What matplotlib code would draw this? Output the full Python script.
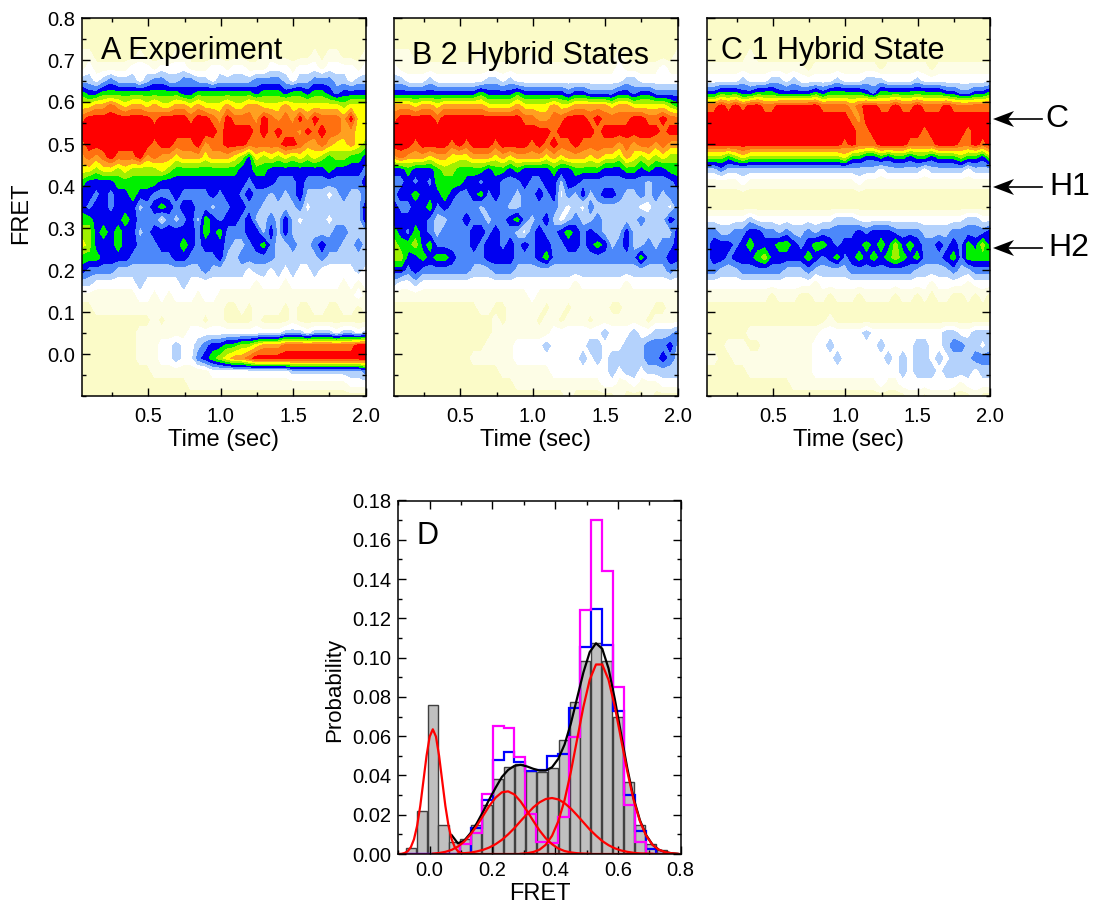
import matplotlib
matplotlib.use('Agg')
import matplotlib.pyplot as plt
import numpy as np
from matplotlib.ticker import MultipleLocator

plt.rcParams['font.family'] = ['Liberation Sans', 'DejaVu Sans']

# FRET rows of the contour grids, top to bottom
FRET_ROWS = [0.80, 0.77, 0.74, 0.71, 0.68, 0.65, 0.62, 0.59, 0.56, 0.53, 0.50,
             0.47, 0.44, 0.41, 0.38, 0.35, 0.32, 0.29, 0.26, 0.23, 0.20, 0.17,
             0.14, 0.11, 0.08, 0.05, 0.02, -0.01, -0.04, -0.07, -0.10]

# one character per time bin, hex level
PANEL_A = [
    "0000000000 0000000000 0000000000 0000000000",
    "0000000000 0000000000 0000000000 0000000000",
    "0000000000 0000000000 0000000000 0000000000",
    "1100000010 0001100000 0000011000 0010110001",
    "1211111222 1222211122 1221112221 2221222212",
    "3323433323 4433443323 3333444432 3344433233",
    "6556666666 6666556666 6666566656 6566545555",
    "8899a98998 9889989888 9889988898 8888887888",
    "abbbbbbbbb abbbbabba9 baaa9ba9a9 b9baaa9b88",
    "bbbbbbbbbb bbbbbbbbba bbbbababaa 9babaa9988",
    "abbbbbbbbb abbaaab9aa bbbaaaaabb a99a988987",
    "9a9abaaab9 a998999899 9875878787 8787677665",
    "8878878777 7876666666 6655665555 5555655554",
    "6555566666 6555555555 5554555444 5444444445",
    "5545455655 4445444454 5545443434 5333234334",
    "5455455534 5654554434 4554433333 4233333335",
    "6655556544 4243453654 5545334353 2333233335",
    "7756565534 5555554656 4445535353 3333344333",
    "8755565544 4555654555 4334564334 3345443343",
    "6665555444 4445544445 3344444333 3334333333",
    "5444433333 3333333433 3332332323 2232222232",
    "3322222232 2222322222 2222122212 2222221212",
    "1111111122 1212221221 1111111111 1111111121",
    "0011111111 1111111111 0010111101 0011001101",
    "0000000000 1011111011 0000100001 0000000000",
    "0000000011 1111122222 2222222233 3233323323",
    "0000000011 1223223455 66778999aa aaaaaaaabb",
    "0000000011 1223224567 899abbbbbb bbbbbbbbbb",
    "0000000000 1111111122 2222222223 3333333334",
    "0000000000 0000011111 1111111111 1111111222",
    "0000000000 0000000000 0000000000 0000000000",
]
PANEL_B = [
    "0000000000 0000000000 0000000000 0000000000",
    "0000000000 0000000000 0000000000 0000000000",
    "0000000000 0000000000 0000000000 0000000000",
    "1110000000 0010000001 0000000000 0100000001",
    "2111111111 1111111111 1111111111 1211111211",
    "3322232222 2223323222 2222222222 2233222222",
    "5555555555 5565555655 5555455444 4554554444",
    "9998998999 9998888988 8898899999 8998888876",
    "abbbbbabbb bbbbbbbbaa 99aabbbaba aaabbaabaa",
    "bbbbbbbbbb bbbbbbbbbb bbabbbbbab bbbbbbbabb",
    "bbbabbbbab abbbabbbba babaabaaaa a9a9aa9a99",
    "9a99989988 8999898999 9898999898 8798787877",
    "5565556776 6665665655 5565566665 5566565566",
    "4454546666 5545544454 4553554444 4444434445",
    "4556555654 4564544344 5452435345 5433434344",
    "5445564544 4434443344 4443232433 3333223324",
    "5555543344 5443445643 4532343343 3333433354",
    "6546543444 4554544324 5445654543 3353333335",
    "7667564444 4545545454 5544554565 3453343445",
    "7755656654 4445555444 5644444444 4444644455",
    "5545444444 4333444333 3333333333 3333333343",
    "3223222222 2222222222 2222212222 2212222222",
    "1111111111 1111111112 1111111111 1111111111",
    "0000000000 0011001111 1011011111 0011110011",
    "0000000000 0000101111 0110111011 1111101111",
    "0000000000 0000111111 1122222223 2223223334",
    "0000000000 0001111222 2322222332 2233344453",
    "0000000000 0111111222 2222223232 3333344543",
    "0000000000 0000011111 1122222222 3233233333",
    "0000000000 0000000111 1111111112 2112111222",
    "0000000000 0000000000 0000100000 0100010000",
]
PANEL_C = [
    "0000000000 0000000000 0000000000 0000000000",
    "0000000000 0000000000 0000000000 0000000000",
    "0000000000 0000000000 0000000000 0000000000",
    "0000001000 0000000000 0000000000 0000000000",
    "1111111111 1111011111 1111011111 1011111111",
    "2222232223 3232222232 2233322223 2222222222",
    "5566655666 5555565666 6654666666 6665544556",
    "aabababbaa bbbbbbaaaa 9abbaabaab aaabaaaaaa",
    "bbbbbbbbbb bbbbbbbbbb a9bbbbbbbb bbbbbbbbbb",
    "bbbbbbbbbb bbbbbbbbbb baabbbbbbb abbbbbabbb",
    "bbbbbbbbbb bbbbbbbbba baaabbbbaa aabbbaabab",
    "7776787777 7777777778 6655656656 6566676657",
    "3343333333 3333333333 3333233333 2333332333",
    "1111121111 1111111111 1211111111 1111111111",
    "0000000000 0000000000 0000000000 0000000000",
    "0000000000 0000000000 0000000000 0000000000",
    "2222223222 2222222233 3222222222 2222223322",
    "4433445544 3433434444 4545554444 3333444445",
    "4555456555 6654566545 5565657565 4454546575",
    "4554555675 5555654564 5656567656 4445646666",
    "4433344444 4333433333 4444444443 3333433444",
    "2222222222 2222212222 2222222222 2122221222",
    "1111111110 1110011011 1011110110 1011001010",
    "0000000000 0000000000 0000000000 0000000000",
    "0000000000 0000000100 0000000000 0000000000",
    "0000001111 1111112222 2232222222 2223322333",
    "0001110011 1111122322 2222322223 3223443323",
    "1100111111 1111122232 2222232323 3232333444",
    "0000001111 1111122222 2222222323 3323333233",
    "0000000000 0011111111 1111211222 2222212222",
    "0000000000 0000000000 0000000011 0111000100",
]
BAND_COLORS = ['#fbfbc8', '#fdfde6', '#ffffff', '#b4d2fc', '#4c88fa', '#0000f0',
               '#00f000', '#a0f000', '#ffff00', '#ffa020', '#ff7010', '#ff0000']

# panel D, probability per bin
BIN_CENTERS = [-0.0603, -0.0255, 0.0093, 0.0441, 0.0789, 0.1137, 0.1485, 0.1833,
               0.2181, 0.2529, 0.2877, 0.3225, 0.3573, 0.3921, 0.4269, 0.4617,
               0.4965, 0.5313, 0.5661, 0.6009, 0.6357, 0.6705, 0.7053, 0.7401]
EXPERIMENT = [0.003, 0.022, 0.076, 0.015, 0.006, 0.0075, 0.015, 0.025, 0.038, 0.0445,
              0.046, 0.0425, 0.042, 0.044, 0.058, 0.0775, 0.0985, 0.1075, 0.0985,
              0.070, 0.0365, 0.015, 0.005, 0.002]
TWO_HYBRID = [0, 0, 0, 0, 0, 0, 0.013, 0.0275, 0.048, 0.052, 0.047, 0.0425, 0.043,
              0.05, 0.051, 0.0745, 0.1055, 0.1245, 0.1065, 0.073, 0.03, 0.0115, 0.0025, 0]
ONE_HYBRID = [0, 0, 0, 0, 0, 0.005, 0.0105, 0.0305, 0.065, 0.064, 0.0495, 0.0205, 0.006,
              0.0055, 0.019, 0.0595, 0.124, 0.170, 0.144, 0.085, 0.025, 0.006, 0, 0]

# fit curves
PEAK0_X = [-0.10, -0.09, -0.08, -0.07, -0.06, -0.05, -0.04, -0.03, -0.02, -0.01, 0.0, 0.01,
           0.02, 0.03, 0.04, 0.05, 0.06, 0.07, 0.08, 0.09, 0.10, 0.11, 0.12, 0.80]
PEAK0_Y = [0, 0.0001, 0.0005, 0.0014, 0.0035, 0.0075, 0.0144, 0.0245, 0.0372, 0.05, 0.0598,
           0.0635, 0.0598, 0.05, 0.0372, 0.0245, 0.0144, 0.0075, 0.0035, 0.0014, 0.0005,
           0.0001, 0, 0]
PEAK1_X = [0.01, 0.03, 0.05, 0.07, 0.09, 0.11, 0.13, 0.15, 0.17, 0.19, 0.21, 0.23, 0.25,
           0.27, 0.29, 0.31, 0.33, 0.35, 0.37, 0.39, 0.41, 0.43, 0.45, 0.47, 0.49, 0.51]
PEAK1_Y = [0.0002, 0.0005, 0.0011, 0.0021, 0.0038, 0.0063, 0.0099, 0.0143, 0.0194, 0.0245,
           0.0287, 0.0314, 0.0319, 0.0303, 0.0267, 0.022, 0.0169, 0.012, 0.008, 0.005,
           0.0028, 0.0015, 0.0008, 0.0004, 0.0002, 0.0001]
PEAK2_X = [0.09, 0.11, 0.13, 0.15, 0.17, 0.19, 0.21, 0.23, 0.25, 0.27, 0.29, 0.31, 0.33, 0.35,
           0.37, 0.39, 0.41, 0.43, 0.45, 0.47, 0.49, 0.51, 0.53, 0.55, 0.57, 0.59, 0.61,
           0.63, 0.65, 0.67, 0.69, 0.71]
PEAK2_Y = [0.0002, 0.0004, 0.0007, 0.0013, 0.0021, 0.0033, 0.005, 0.0072, 0.01, 0.0132, 0.0168,
           0.0203, 0.0237, 0.0263, 0.028, 0.0285, 0.0278, 0.0259, 0.0231, 0.0197, 0.0161,
           0.0125, 0.0094, 0.0066, 0.0045, 0.0029, 0.0018, 0.0011, 0.0006, 0.0003, 0.0002, 0.0001]
PEAK3_X = [0.29, 0.31, 0.33, 0.35, 0.37, 0.39, 0.41, 0.43, 0.45, 0.47, 0.49, 0.51, 0.53, 0.55,
           0.57, 0.59, 0.61, 0.63, 0.65, 0.67, 0.69, 0.71, 0.73, 0.75, 0.77, 0.79]
PEAK3_Y = [0.0001, 0.0004, 0.001, 0.0022, 0.0047, 0.0093, 0.0167, 0.0275, 0.0419, 0.0585, 0.075,
           0.0887, 0.0965, 0.0965, 0.0887, 0.075, 0.0585, 0.0419, 0.0275, 0.0167, 0.0093, 0.0047,
           0.0022, 0.001, 0.0004, 0.0001]
TOTAL_X = [0.07, 0.09, 0.11, 0.13, 0.15, 0.17, 0.19, 0.21, 0.23, 0.25, 0.27, 0.29, 0.31, 0.33,
           0.35, 0.37, 0.39, 0.41, 0.43, 0.45, 0.47, 0.49, 0.51, 0.53, 0.55, 0.57, 0.59, 0.61,
           0.63, 0.65, 0.67, 0.69, 0.71, 0.73, 0.75, 0.77, 0.79]
TOTAL_Y = [0.0096, 0.0054, 0.0068, 0.0106, 0.0156, 0.0215, 0.0278, 0.0337, 0.0392, 0.0428, 0.0449,
           0.0454, 0.0446, 0.0434, 0.0425, 0.0425, 0.0442, 0.0485, 0.0558, 0.0665, 0.0795, 0.0925,
           0.1028, 0.1073, 0.1045, 0.0945, 0.0789, 0.0611, 0.0435, 0.0284, 0.0172, 0.0096, 0.0048,
           0.0022, 0.001, 0.0004, 0.0001]


def decode(rows):
    grid = [[int(c, 16) for c in row.replace(' ', '')] for row in rows]
    return np.array(grid, dtype=float)


def style_axes(ax):
    ax.tick_params(which='both', direction='in', top=True, right=True, width=1.0, labelsize=14.5, pad=5)
    ax.tick_params(which='major', length=6)
    ax.tick_params(which='minor', length=3)
    for spine in ax.spines.values():
        spine.set_linewidth(1.1)


def add_axes_px(fig, left, top, right, bottom):
    return fig.add_axes([left / 1095, 1 - bottom / 907, (right - left) / 1095, (bottom - top) / 907])


def plot_map(ax, rows, title, title_x, title_y):
    time = np.linspace(0.04, 2.0, 40)
    levels = np.arange(-0.5, 12.0, 1.0)
    ax.contourf(time, FRET_ROWS, decode(rows), levels=levels, colors=BAND_COLORS)
    ax.set_xlim(0.04, 2.0)
    ax.set_ylim(-0.1, 0.8)
    ax.xaxis.set_major_locator(MultipleLocator(0.5))
    ax.xaxis.set_minor_locator(MultipleLocator(0.25))
    ax.yaxis.set_major_locator(MultipleLocator(0.1))
    ax.yaxis.set_minor_locator(MultipleLocator(0.05))
    ax.set_yticks(np.arange(0.0, 0.81, 0.1))
    ax.set_xlabel('Time (sec)', fontsize=17, labelpad=2)
    ax.text(title_x, title_y, title, transform=ax.transAxes, fontsize=22, va='center')
    style_axes(ax)
    ax.tick_params(axis='x', pad=8)


def plot_histogram(ax):
    ax.bar(BIN_CENTERS, EXPERIMENT, width=0.032, color='#c0c0c0', edgecolor='#404040', linewidth=1.0)
    edges = np.append(np.array(BIN_CENTERS) - 0.0174, BIN_CENTERS[-1] + 0.0174)
    ax.stairs(TWO_HYBRID, edges, color='#0000ff', linewidth=1.6)
    ax.stairs(ONE_HYBRID, edges, color='#ff00ff', linewidth=1.6)
    ax.plot(TOTAL_X, TOTAL_Y, color='black', linewidth=1.6)
    for x, y in [(PEAK0_X, PEAK0_Y), (PEAK1_X, PEAK1_Y), (PEAK2_X, PEAK2_Y), (PEAK3_X, PEAK3_Y)]:
        ax.plot(x, y, color='#ff0000', linewidth=1.6)
    ax.set_xlim(-0.1, 0.8)
    ax.set_ylim(0, 0.18)
    ax.xaxis.set_major_locator(MultipleLocator(0.2))
    ax.xaxis.set_minor_locator(MultipleLocator(0.1))
    ax.yaxis.set_major_locator(MultipleLocator(0.02))
    ax.yaxis.set_minor_locator(MultipleLocator(0.01))
    ax.set_xticks(np.arange(0.0, 0.81, 0.2))
    ax.set_xlabel('FRET', fontsize=17, labelpad=2)
    ax.set_ylabel('Probability', fontsize=16)
    ax.yaxis.set_label_coords(-0.19, 0.464)
    ax.text(0.066, 0.899, 'D', transform=ax.transAxes, fontsize=22, va='center')
    style_axes(ax)


def add_state_arrow(fig, y_px):
    # barbed head and shaft, in figure pixels
    px = [(993, y_px), (1014, y_px - 8), (1008, y_px), (1014, y_px + 8)]
    pts = [(x / 1095, 1 - y / 907) for x, y in px]
    fig.add_artist(plt.Polygon(pts, closed=True, color='black', lw=0, transform=fig.transFigure))
    fig.add_artist(plt.Line2D([1008 / 1095, 1042 / 1095], [1 - y_px / 907] * 2, color='black', lw=1.2,
                              transform=fig.transFigure))


fig = plt.figure(figsize=(10.95, 9.07), dpi=100)

ax_a = add_axes_px(fig, 81.7, 18, 365.7, 396)
ax_b = add_axes_px(fig, 393.7, 18, 677.7, 396)
ax_c = add_axes_px(fig, 706.7, 18, 990.0, 396)
ax_d = add_axes_px(fig, 398.3, 500.5, 680.7, 854)

plot_map(ax_a, PANEL_A, 'A Experiment', 0.068, 0.913)
plot_map(ax_b, PANEL_B, 'B 2 Hybrid States', 0.064, 0.9)
plot_map(ax_c, PANEL_C, 'C 1 Hybrid State', 0.05, 0.913)
ax_a.set_ylabel('FRET', fontsize=17)
ax_a.yaxis.set_label_coords(-0.175, 0.484)
ax_b.tick_params(labelleft=False)
ax_c.tick_params(labelleft=False)
plot_histogram(ax_d)

# state markers beside panel C
for label, y_px, label_x in [('C', 119, 1045), ('H1', 187, 1049), ('H2', 248, 1048)]:
    fig.text(label_x / 1095, 1 - y_px / 907, label, fontsize=23, va='center')
    add_state_arrow(fig, y_px)

fig.savefig('out.png', dpi=100)
